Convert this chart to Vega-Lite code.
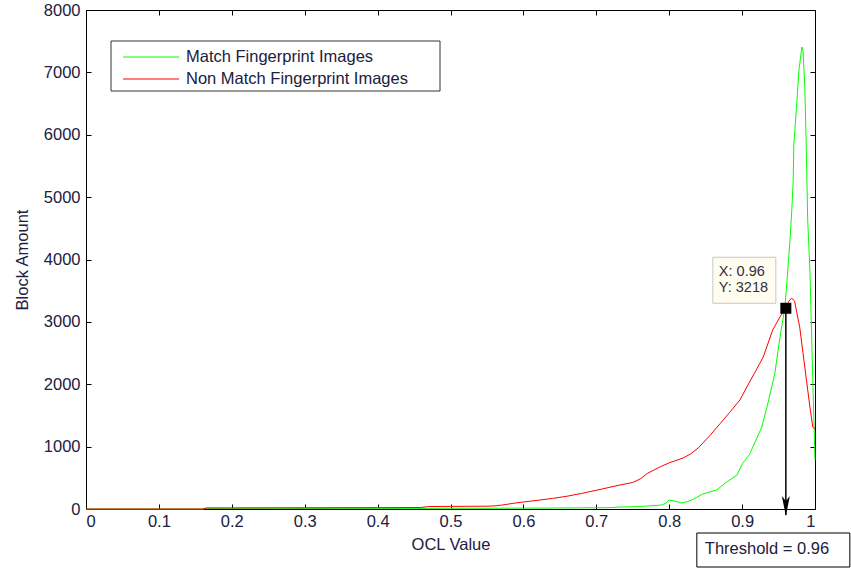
{
  "$schema": "https://vega.github.io/schema/vega-lite/v6.json",
  "width": 729,
  "height": 499,
  "autosize": {"type": "none"},
  "padding": {"left": 86, "top": 10, "right": 36, "bottom": 59},
  "background": "white",
  "view": {"stroke": "black", "strokeWidth": 1},
  "config": {
    "font": "Liberation Sans",
    "axis": {"labelFont": "Liberation Sans", "titleFont": "Liberation Sans", "labelFontSize": 16.5, "titleFontSize": 16.5, "titleFontWeight": "normal", "labelColor": "#202040", "titleColor": "#202040", "domainColor": "black", "tickColor": "black", "grid": false},
    "legend": {"labelFont": "Liberation Sans", "labelFontSize": 16.5, "labelColor": "#202040"}
  },
  "datasets": {
    "curves": [
      {"ocl": 0, "count": 0, "series": "Match Fingerprint Images"},
      {"ocl": 0.1, "count": 0, "series": "Match Fingerprint Images"},
      {"ocl": 0.16, "count": 0, "series": "Match Fingerprint Images"},
      {"ocl": 0.165, "count": 10, "series": "Match Fingerprint Images"},
      {"ocl": 0.2, "count": 10, "series": "Match Fingerprint Images"},
      {"ocl": 0.3, "count": 10, "series": "Match Fingerprint Images"},
      {"ocl": 0.4, "count": 10, "series": "Match Fingerprint Images"},
      {"ocl": 0.45, "count": 10, "series": "Match Fingerprint Images"},
      {"ocl": 0.5, "count": 12, "series": "Match Fingerprint Images"},
      {"ocl": 0.55, "count": 12, "series": "Match Fingerprint Images"},
      {"ocl": 0.6, "count": 14, "series": "Match Fingerprint Images"},
      {"ocl": 0.65, "count": 16, "series": "Match Fingerprint Images"},
      {"ocl": 0.7, "count": 20, "series": "Match Fingerprint Images"},
      {"ocl": 0.72, "count": 22, "series": "Match Fingerprint Images"},
      {"ocl": 0.7325, "count": 32, "series": "Match Fingerprint Images"},
      {"ocl": 0.75, "count": 36, "series": "Match Fingerprint Images"},
      {"ocl": 0.77, "count": 48, "series": "Match Fingerprint Images"},
      {"ocl": 0.78, "count": 55, "series": "Match Fingerprint Images"},
      {"ocl": 0.79, "count": 64, "series": "Match Fingerprint Images"},
      {"ocl": 0.795, "count": 90, "series": "Match Fingerprint Images"},
      {"ocl": 0.8, "count": 145, "series": "Match Fingerprint Images"},
      {"ocl": 0.81, "count": 120, "series": "Match Fingerprint Images"},
      {"ocl": 0.8175, "count": 96, "series": "Match Fingerprint Images"},
      {"ocl": 0.825, "count": 120, "series": "Match Fingerprint Images"},
      {"ocl": 0.831, "count": 144, "series": "Match Fingerprint Images"},
      {"ocl": 0.846, "count": 240, "series": "Match Fingerprint Images"},
      {"ocl": 0.865, "count": 305, "series": "Match Fingerprint Images"},
      {"ocl": 0.879, "count": 433, "series": "Match Fingerprint Images"},
      {"ocl": 0.893, "count": 545, "series": "Match Fingerprint Images"},
      {"ocl": 0.901, "count": 737, "series": "Match Fingerprint Images"},
      {"ocl": 0.91, "count": 870, "series": "Match Fingerprint Images"},
      {"ocl": 0.927, "count": 1314, "series": "Match Fingerprint Images"},
      {"ocl": 0.9355, "count": 1700, "series": "Match Fingerprint Images"},
      {"ocl": 0.945, "count": 2180, "series": "Match Fingerprint Images"},
      {"ocl": 0.952, "count": 2757, "series": "Match Fingerprint Images"},
      {"ocl": 0.9588, "count": 3240, "series": "Match Fingerprint Images"},
      {"ocl": 0.963, "count": 3880, "series": "Match Fingerprint Images"},
      {"ocl": 0.9657, "count": 4313, "series": "Match Fingerprint Images"},
      {"ocl": 0.968, "count": 4760, "series": "Match Fingerprint Images"},
      {"ocl": 0.97, "count": 5227, "series": "Match Fingerprint Images"},
      {"ocl": 0.971, "count": 5837, "series": "Match Fingerprint Images"},
      {"ocl": 0.9753, "count": 6557, "series": "Match Fingerprint Images"},
      {"ocl": 0.978, "count": 7037, "series": "Match Fingerprint Images"},
      {"ocl": 0.982, "count": 7407, "series": "Match Fingerprint Images"},
      {"ocl": 0.9835, "count": 7360, "series": "Match Fingerprint Images"},
      {"ocl": 0.986, "count": 6770, "series": "Match Fingerprint Images"},
      {"ocl": 0.9877, "count": 5965, "series": "Match Fingerprint Images"},
      {"ocl": 0.99, "count": 4630, "series": "Match Fingerprint Images"},
      {"ocl": 0.993, "count": 3830, "series": "Match Fingerprint Images"},
      {"ocl": 0.996, "count": 2500, "series": "Match Fingerprint Images"},
      {"ocl": 1.0, "count": 780, "series": "Match Fingerprint Images"},
      {"ocl": 0, "count": 0, "series": "Non Match Fingerprint Images"},
      {"ocl": 0.1, "count": 0, "series": "Non Match Fingerprint Images"},
      {"ocl": 0.16, "count": 0, "series": "Non Match Fingerprint Images"},
      {"ocl": 0.165, "count": 18, "series": "Non Match Fingerprint Images"},
      {"ocl": 0.2, "count": 18, "series": "Non Match Fingerprint Images"},
      {"ocl": 0.3, "count": 20, "series": "Non Match Fingerprint Images"},
      {"ocl": 0.4, "count": 22, "series": "Non Match Fingerprint Images"},
      {"ocl": 0.46, "count": 24, "series": "Non Match Fingerprint Images"},
      {"ocl": 0.47, "count": 40, "series": "Non Match Fingerprint Images"},
      {"ocl": 0.5, "count": 42, "series": "Non Match Fingerprint Images"},
      {"ocl": 0.55, "count": 45, "series": "Non Match Fingerprint Images"},
      {"ocl": 0.56, "count": 50, "series": "Non Match Fingerprint Images"},
      {"ocl": 0.57, "count": 62, "series": "Non Match Fingerprint Images"},
      {"ocl": 0.58, "count": 80, "series": "Non Match Fingerprint Images"},
      {"ocl": 0.59, "count": 98, "series": "Non Match Fingerprint Images"},
      {"ocl": 0.6, "count": 112, "series": "Non Match Fingerprint Images"},
      {"ocl": 0.62, "count": 140, "series": "Non Match Fingerprint Images"},
      {"ocl": 0.64, "count": 170, "series": "Non Match Fingerprint Images"},
      {"ocl": 0.66, "count": 205, "series": "Non Match Fingerprint Images"},
      {"ocl": 0.68, "count": 250, "series": "Non Match Fingerprint Images"},
      {"ocl": 0.7, "count": 300, "series": "Non Match Fingerprint Images"},
      {"ocl": 0.7325, "count": 385, "series": "Non Match Fingerprint Images"},
      {"ocl": 0.75, "count": 425, "series": "Non Match Fingerprint Images"},
      {"ocl": 0.76, "count": 480, "series": "Non Match Fingerprint Images"},
      {"ocl": 0.77, "count": 570, "series": "Non Match Fingerprint Images"},
      {"ocl": 0.787, "count": 673, "series": "Non Match Fingerprint Images"},
      {"ocl": 0.8, "count": 740, "series": "Non Match Fingerprint Images"},
      {"ocl": 0.819, "count": 818, "series": "Non Match Fingerprint Images"},
      {"ocl": 0.829, "count": 880, "series": "Non Match Fingerprint Images"},
      {"ocl": 0.84, "count": 980, "series": "Non Match Fingerprint Images"},
      {"ocl": 0.856, "count": 1180, "series": "Non Match Fingerprint Images"},
      {"ocl": 0.87, "count": 1370, "series": "Non Match Fingerprint Images"},
      {"ocl": 0.883, "count": 1550, "series": "Non Match Fingerprint Images"},
      {"ocl": 0.897, "count": 1747, "series": "Non Match Fingerprint Images"},
      {"ocl": 0.908, "count": 1988, "series": "Non Match Fingerprint Images"},
      {"ocl": 0.918, "count": 2200, "series": "Non Match Fingerprint Images"},
      {"ocl": 0.929, "count": 2437, "series": "Non Match Fingerprint Images"},
      {"ocl": 0.942, "count": 2870, "series": "Non Match Fingerprint Images"},
      {"ocl": 0.955, "count": 3142, "series": "Non Match Fingerprint Images"},
      {"ocl": 0.96, "count": 3218, "series": "Non Match Fingerprint Images"},
      {"ocl": 0.964, "count": 3330, "series": "Non Match Fingerprint Images"},
      {"ocl": 0.968, "count": 3382, "series": "Non Match Fingerprint Images"},
      {"ocl": 0.972, "count": 3330, "series": "Non Match Fingerprint Images"},
      {"ocl": 0.979, "count": 2917, "series": "Non Match Fingerprint Images"},
      {"ocl": 0.986, "count": 2276, "series": "Non Match Fingerprint Images"},
      {"ocl": 0.993, "count": 1635, "series": "Non Match Fingerprint Images"},
      {"ocl": 0.997, "count": 1314, "series": "Non Match Fingerprint Images"},
      {"ocl": 1.0, "count": 1280, "series": "Non Match Fingerprint Images"}
    ],
    "marker": [{"ocl": 0.96, "count": 3218, "base": 0, "tipX": "X: 0.96", "tipY": "Y: 3218", "threshold": "Threshold = 0.96"}]
  },
  "layer": [
    {
      "data": {"name": "marker"},
      "mark": {"type": "rect", "fill": "white", "stroke": "#333333", "strokeWidth": 1, "xOffset": 25, "x2Offset": 354, "yOffset": 31, "y2Offset": 81, "clip": false},
      "encoding": {
        "x": {"datum": 0, "type": "quantitative", "axis": null},
        "x2": {"datum": 0},
        "y": {"datum": 8000, "type": "quantitative", "axis": null},
        "y2": {"datum": 8000}
      }
    },
    {
      "data": {"name": "curves"},
      "mark": {"type": "line", "strokeWidth": 1, "clip": false},
      "encoding": {
        "x": {"field": "ocl", "type": "quantitative", "scale": {"domain": [0, 1], "nice": false, "zero": false},
              "axis": {"orient": "bottom", "title": "OCL Value", "values": [0, 0.1, 0.2, 0.3, 0.4, 0.5, 0.6, 0.7, 0.8, 0.9, 1], "format": "~g", "tickSize": -5, "labelPadding": 9, "titlePadding": 7, "domainWidth": 1}},
        "y": {"field": "count", "type": "quantitative", "scale": {"domain": [0, 8000], "nice": false},
              "axis": {"orient": "left", "title": "Block Amount", "values": [0, 1000, 2000, 3000, 4000, 5000, 6000, 7000, 8000], "format": "d", "tickSize": -5, "labelPadding": 11, "titlePadding": 13}},
        "color": {"field": "series", "type": "nominal",
                  "scale": {"domain": ["Match Fingerprint Images", "Non Match Fingerprint Images"], "range": ["#00ff00", "#ff0000"]},
                  "legend": {"title": null, "orient": "none", "legendX": 25, "legendY": 31, "symbolType": "M-2.5,0L2.5,0", "symbolSize": 502, "symbolStrokeWidth": 1, "symbolOffset": 24, "labelOffset": 23, "padding": 4, "rowPadding": 1, "labelLimit": 500}}
      }
    },
    {
      "data": {"name": "marker"},
      "mark": {"type": "point", "opacity": 0},
      "encoding": {
        "x": {"field": "ocl", "type": "quantitative", "axis": {"orient": "top", "title": null, "labels": false, "values": [0, 0.1, 0.2, 0.3, 0.4, 0.5, 0.6, 0.7, 0.8, 0.9, 1], "tickSize": -5}},
        "y": {"field": "count", "type": "quantitative", "axis": {"orient": "right", "title": null, "labels": false, "values": [0, 1000, 2000, 3000, 4000, 5000, 6000, 7000, 8000], "tickSize": -5}}
      }
    },
    {
      "data": {"name": "marker"},
      "mark": {"type": "rule", "color": "black", "strokeWidth": 1.5, "y2Offset": 6, "clip": false},
      "encoding": {
        "x": {"field": "ocl", "type": "quantitative", "axis": null},
        "y": {"field": "count", "type": "quantitative", "axis": null},
        "y2": {"field": "base"}
      }
    },
    {
      "data": {"name": "marker"},
      "mark": {"type": "point", "shape": "M0,1 L-0.4,-1 L0,-0.5 L0.4,-1 Z", "size": 400, "filled": true, "color": "black", "opacity": 1, "yOffset": -3, "clip": false},
      "encoding": {
        "x": {"field": "ocl", "type": "quantitative", "axis": null},
        "y": {"field": "base", "type": "quantitative", "axis": null}
      }
    },
    {
      "data": {"name": "marker"},
      "mark": {"type": "rect", "fill": "#fffcf0", "stroke": "#c8c8c8", "strokeWidth": 1, "xOffset": -73, "x2Offset": -10, "yOffset": -51, "y2Offset": -5, "clip": false},
      "encoding": {
        "x": {"field": "ocl", "type": "quantitative", "axis": null},
        "x2": {"field": "ocl"},
        "y": {"field": "count", "type": "quantitative", "axis": null},
        "y2": {"field": "count"}
      }
    },
    {
      "data": {"name": "marker"},
      "mark": {"type": "text", "align": "left", "baseline": "middle", "dx": -67, "dy": -36, "fontSize": 14.5, "font": "Liberation Sans", "color": "#303040"},
      "encoding": {
        "x": {"field": "ocl", "type": "quantitative", "axis": null},
        "y": {"field": "count", "type": "quantitative", "axis": null},
        "text": {"field": "tipX"}
      }
    },
    {
      "data": {"name": "marker"},
      "mark": {"type": "text", "align": "left", "baseline": "middle", "dx": -67, "dy": -20, "fontSize": 14.5, "font": "Liberation Sans", "color": "#303040"},
      "encoding": {
        "x": {"field": "ocl", "type": "quantitative", "axis": null},
        "y": {"field": "count", "type": "quantitative", "axis": null},
        "text": {"field": "tipY"}
      }
    },
    {
      "data": {"name": "marker"},
      "mark": {"type": "square", "size": 121, "filled": true, "color": "black", "opacity": 1},
      "encoding": {
        "x": {"field": "ocl", "type": "quantitative", "axis": null},
        "y": {"field": "count", "type": "quantitative", "axis": null}
      }
    },
    {
      "data": {"name": "marker"},
      "mark": {"type": "rect", "fill": "white", "stroke": "black", "strokeWidth": 1, "xOffset": -89, "x2Offset": 64, "yOffset": 24, "y2Offset": 58, "clip": false},
      "encoding": {
        "x": {"field": "ocl", "type": "quantitative", "axis": null},
        "x2": {"field": "ocl"},
        "y": {"field": "base", "type": "quantitative", "axis": null},
        "y2": {"field": "base"}
      }
    },
    {
      "data": {"name": "marker"},
      "mark": {"type": "text", "align": "left", "baseline": "middle", "dx": -81, "dy": 40, "fontSize": 16.5, "font": "Liberation Sans", "color": "#202040", "clip": false},
      "encoding": {
        "x": {"field": "ocl", "type": "quantitative", "axis": null},
        "y": {"field": "base", "type": "quantitative", "axis": null},
        "text": {"field": "threshold"}
      }
    }
  ],
  "resolve": {"axis": {"x": "independent", "y": "independent"}}
}
